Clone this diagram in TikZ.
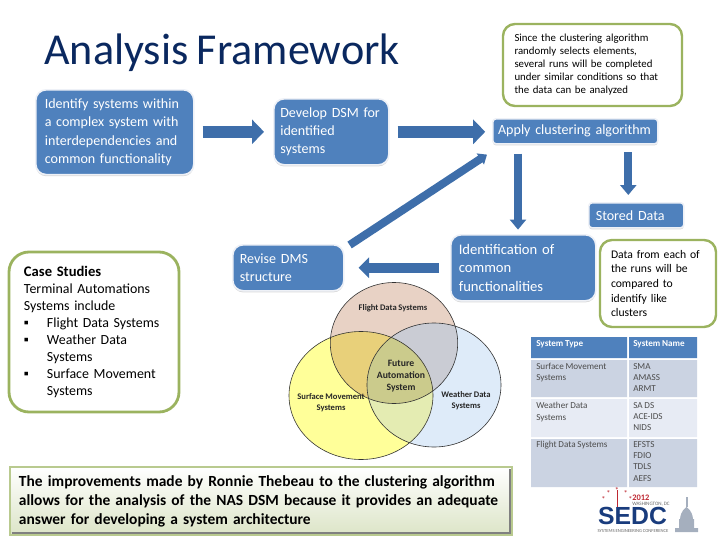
\documentclass[tikz,border=0pt]{standalone}
\usepackage{fontspec}
\setmainfont{Carlito}[WordSpace=0.85]
\newfontfamily\logofont{Liberation Sans}
\usepackage{tikz}
\usetikzlibrary{arrows.meta,positioning,calc,shapes.geometric,shadows}
\definecolor{ttl}{RGB}{10,40,95}
\definecolor{bx}{RGB}{79,129,189}
\definecolor{bxedge}{RGB}{238,241,247}
\definecolor{arr}{RGB}{62,110,170}
\definecolor{nt}{RGB}{155,179,95}
\definecolor{fl}{RGB}{232,210,197}
\definecolor{sf}{RGB}{255,255,153}
\definecolor{we}{RGB}{222,235,249}
\definecolor{flsf}{RGB}{232,208,122}
\definecolor{flwe}{RGB}{202,204,212}
\definecolor{sfwe}{RGB}{228,236,178}
\definecolor{mid}{RGB}{203,203,140}
\definecolor{rowa}{RGB}{203,211,226}
\definecolor{rowb}{RGB}{231,235,244}
\definecolor{sedc}{RGB}{25,60,125}
\definecolor{sedr}{RGB}{190,40,50}
\definecolor{capi}{RGB}{165,175,190}
\tikzset{
  flowbox/.style={draw=bxedge,line width=0.4mm,fill=bx,rounded corners=2.6mm,text=white,anchor=north west,align=left,inner sep=0pt,
    drop shadow={opacity=0.3,shadow xshift=0mm,shadow yshift=-0.4mm}},
  notebox/.style={draw=nt,line width=0.6mm,fill=white,rounded corners=3mm,align=left,text=black},
  blockarrow/.style={draw=arr,line width=3mm,-{Triangle[length=3mm,width=6mm]}},
  downarrow/.style={draw=arr,line width=2mm,-{Triangle[length=2.5mm,width=4mm]}},
  vennlabel/.style={font=\bfseries\fontsize{6.1}{7.6}\selectfont,align=center,text=black!85},
  cellhead/.style={anchor=north west,font=\bfseries\fontsize{6.5}{7.5}\selectfont,text=white,align=left,inner sep=0pt},
  cellbody/.style={anchor=north west,font=\fontsize{6.5}{8.1}\selectfont,text=black!70,align=left,inner sep=0pt}
}
\begin{document}
\begin{tikzpicture}[x=0.25mm,y=-0.25mm]
  \useasboundingbox (0,0) rectangle (720,540);

  % title
  \node[anchor=west,text=ttl,font=\fontsize{31.4}{36}\selectfont,inner sep=0pt] (title) at (44,53) {Analysis Framework};

  % flow boxes
  \node[flowbox,minimum width=39.5mm,minimum height=21.2mm,text width=35mm,font=\fontsize{10}{13}\selectfont,inner xsep=2.25mm] (identify) at (35,89) {Identify systems within\\a complex system with\\interdependencies and\\common functionality};
  \node[flowbox,minimum width=28.75mm,minimum height=16.5mm,text width=25.5mm,font=\fontsize{10}{13}\selectfont,inner xsep=1.6mm] (develop) at (273,98) {Develop DSM for\\identified\\systems};
  \node[flowbox,minimum width=41.25mm,minimum height=6.25mm,text width=38.6mm,font=\fontsize{10}{13}\selectfont,inner xsep=1.3mm,rounded corners=0.8mm] (apply) at (492,118) {Apply clustering algorithm};
  \node[flowbox,minimum width=23.75mm,minimum height=6.25mm,text width=20.25mm,font=\fontsize{10}{13}\selectfont,inner xsep=1.75mm,rounded corners=0.8mm] (stored) at (588,202) {Stored Data};
  \node[flowbox,minimum width=36.25mm,minimum height=16.5mm,text width=32.25mm,font=\fontsize{10.4}{13}\selectfont,inner xsep=2mm] (common) at (450,234) {Identification of\\common\\functionalities};
  \node[flowbox,minimum width=27.75mm,minimum height=11.5mm,text width=24.25mm,font=\fontsize{10}{13}\selectfont,inner xsep=1.75mm] (revise) at (232,244) {Revise DMS\\structure};

  % block arrows
  \draw[blockarrow] ([xshift=2mm]identify.east |- develop.west) -- ([xshift=-2.25mm]develop.west);
  \draw[blockarrow] ([xshift=2mm]develop.east) -- ([xshift=-1.7mm]apply.west |- develop.east);
  \draw[downarrow] ($(apply.south west)+(26,9)$) -- ($(apply.south west)+(26,85)$);
  \draw[downarrow] ($(stored.north)+(-8,-50)$) -- ($(stored.north)+(-8,-7)$);
  \draw[blockarrow,line width=2.5mm,-{Triangle[length=2.6mm,width=5mm]}] ([xshift=-2.75mm]common.west |- revise.east) -- ([xshift=3.5mm]revise.east);
  \draw[downarrow,-{Triangle[length=2mm,width=3.2mm]}] ($(revise.north east)+(5,1)$) -- ($(apply.south west)+(-5,10)$);

  % green notes
  \node[notebox,minimum width=44.75mm,minimum height=20.5mm,text width=39mm,font=\fontsize{7.7}{9.25}\selectfont] (runs) at (592.5,65) {Since the clustering algorithm\\randomly selects elements,\\several runs will be completed\\under similar conditions so that\\the data can be analyzed};
  \node[notebox,minimum width=29mm,minimum height=21.75mm,text width=23.5mm,font=\fontsize{8.3}{10.4}\selectfont] (like) at (658,283.5) {Data from each of\\the runs will be\\compared to\\identify like\\clusters};
  \node[notebox,minimum width=42.5mm,minimum height=40mm,text width=35mm,line width=0.7mm,rounded corners=5mm,font=\fontsize{9.9}{12}\selectfont] (cases) at (94,332) {{\bfseries\fontsize{10.4}{12}\selectfont Case Studies}\\Terminal Automations\\Systems include\\\makebox[5.75mm][l]{▪}Flight Data Systems\\\makebox[5.75mm][l]{▪}Weather Data\\\makebox[5.75mm][l]{}Systems\\\makebox[5.75mm][l]{▪}Surface Movement\\\makebox[5.75mm][l]{}Systems};
  \node[draw=nt!70,line width=0.5mm,top color=white,bottom color=nt!35,minimum width=125.5mm,minimum height=17mm,text width=121mm,align=left,inner sep=0pt,font=\bfseries\fontsize{11}{13.5}\selectfont] (answer) at (261,501) {The improvements made by Ronnie Thebeau to the clustering algorithm\\allows for the analysis of the NAS DSM because it provides an adequate\\answer for developing a system architecture};
  \draw[black!50,line width=0.3mm] ($(answer.south west)+(3,-3)$) -- ($(answer.south east)+(-3,-3)$) -- ($(answer.north east)+(-3,3)$);

  % venn diagram
  \path[fill=fl] (394,343) ellipse (63.7 and 60.5);
  \path[fill=we] (434,385) ellipse (67 and 62);
  \path[fill=sf] (361,395.5) ellipse (72 and 64);
  \begin{scope}
    \clip (394,343) ellipse (63.7 and 60.5);
    \path[fill=flwe] (434,385) ellipse (67 and 62);
    \path[fill=flsf] (361,395.5) ellipse (72 and 64);
  \end{scope}
  \begin{scope}
    \clip (434,385) ellipse (67 and 62);
    \path[fill=sfwe] (361,395.5) ellipse (72 and 64);
    \clip (361,395.5) ellipse (72 and 64);
    \path[fill=mid] (394,343) ellipse (63.7 and 60.5);
  \end{scope}
  \draw[black!80,line width=0.15mm] (394,343) ellipse (63.7 and 60.5);
  \draw[black!80,line width=0.15mm] (434,385) ellipse (67 and 62);
  \draw[black!80,line width=0.15mm] (361,395.5) ellipse (72 and 64);
  \node[vennlabel] (flight) at (393,308) {Flight Data Systems};
  \node[vennlabel] (weather) at (466,401) {Weather Data\\Systems};
  \node[vennlabel] (surface) at (331,403) {Surface Movement\\Systems};
  \node[vennlabel,font=\bfseries\fontsize{6.9}{8.4}\selectfont] (future) at (401,376) {Future\\Automation\\System};

  % table
  \fill[bx] (531,337) rectangle (627,358) (629,337) rectangle (697,358);
  \fill[rowa] (531,360) rectangle (627,397) (629,360) rectangle (697,397);
  \fill[rowb] (531,399) rectangle (627,437) (629,399) rectangle (697,437);
  \fill[rowa] (531,439) rectangle (627,487) (629,439) rectangle (697,487);
  \node[cellhead] (hta) at (536,340) {System Type};
  \node[cellhead] (htb) at (633,340) {System Name};
  \node[cellbody] (ca) at (536,363) {Surface Movement\\Systems};
  \node[cellbody] (cb) at (633,363) {SMA\\AMASS\\ARMT};
  \node[cellbody] (cc) at (536,402) {Weather Data\\Systems};
  \node[cellbody] (cd) at (633,402) {SA DS\\ACE-IDS\\NIDS};
  \node[cellbody] (ce) at (536,441) {Flight Data Systems};
  \node[cellbody] (cf) at (633,441) {EFSTS\\FDIO\\TDLS\\AEFS};

  % logo
  \node[inner sep=0pt,text=sedc,font=\logofont\bfseries\fontsize{17.6}{18}\selectfont] (sedc) at (632.5,516) {SEDC};
  \fill[sedr] (616.5,490) rectangle (618,507);
  \node[anchor=west,inner sep=0pt,text=sedr,font=\bfseries\fontsize{6}{6}\selectfont] (year) at (632,498) {2012};
  \node[anchor=west,inner sep=0pt,text=black!60,font=\fontsize{3.6}{3.6}\selectfont] (city) at (632,504) {WASHINGTON, DC};
  \node[inner sep=0pt,text=black!60,font=\fontsize{3.3}{3.3}\selectfont] (conf) at (633,531) {SYSTEMS ENGINEERING CONFERENCE};
  \foreach \a in {205,235,270,305,335}
    \node[inner sep=0pt,text=sedr,font=\fontsize{6}{6}\selectfont] (star\a) at ($(617,506)+(\a:15)$) {*};
  \fill[capi] (675,528) rectangle (698,532) (679,519) rectangle (694,528);
  \fill[capi] (680,519) .. controls (681,510) and (685,509) .. (686.5,507) .. controls (688,509) and (692,510) .. (693,519) -- cycle;
  \fill[capi] (685.5,497) rectangle (687.5,507);
\end{tikzpicture}
\end{document}
